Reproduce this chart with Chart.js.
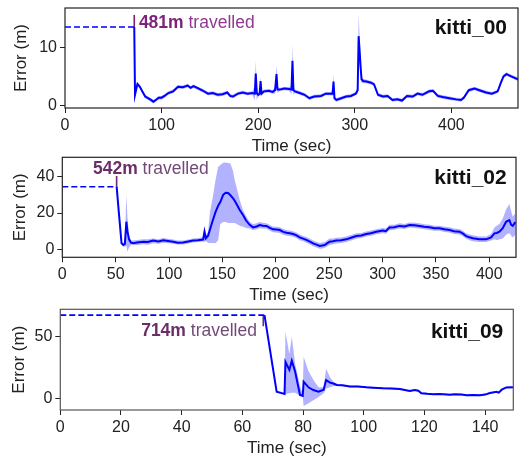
<!DOCTYPE html>
<html>
<head>
<meta charset="utf-8">
<script src="https://cdn.jsdelivr.net/npm/chart.js@4.4.1/dist/chart.umd.min.js"></script>
<style>
  html, body { margin: 0; padding: 0; background: #fff; overflow: hidden; }
  #wrap { position: relative; width: 521px; height: 456px; }
  canvas { position: absolute; left: 0; }
</style>
</head>
<body>
<div id="wrap">
  <canvas id="c00" width="521" height="157" style="top:0px"></canvas>
  <canvas id="c02" width="521" height="156" style="top:150px"></canvas>
  <canvas id="c09" width="521" height="160" style="top:299px"></canvas>
</div>
<script>
// kitti_00 : time (sec), mean error (m), spread (m)
const t00 = [
  71.7, 72.5, 75, 77.5, 80, 83, 86, 89, 91.5, 94,
  97, 100, 103, 107, 112, 117, 122, 127, 130, 133,
  138, 143, 148, 153, 158, 163, 168, 171, 174, 179,
  184, 189, 194, 196.5, 197.5, 198.5, 200, 201.5, 202.5, 203.5,
  206, 211, 215, 217.5, 219, 220, 222, 227, 232, 234.5,
  235.5, 236.5, 238, 243, 248, 253, 258, 265, 270, 275,
  277, 278, 279, 281, 286, 291, 296, 301, 303, 304,
  305, 306, 307, 308.5, 312, 317, 320, 324, 329, 334,
  339, 344, 349, 354, 360, 365, 370, 377, 381, 386,
  391, 398, 405, 410, 413, 418, 424, 429, 436, 442,
  448, 451, 454, 457, 462, 469
];
const err00 = [
  13.6, 1.8, 3.7, 3.2, 2.4, 1.5, 1.2, 0.9, 0.6, 0.9,
  1.3, 1.3, 1.6, 2.1, 2.4, 3.2, 3.1, 3.4, 3.0, 3.3,
  2.9, 2.5, 2.0, 2.1, 1.8, 1.9, 2.2, 1.6, 1.5, 2.0,
  2.2, 2.0, 2.1, 2.0, 5.5, 2.1, 1.8, 2.0, 4.2, 2.0,
  2.4, 2.5, 2.3, 2.6, 5.4, 2.7, 2.7, 2.9, 2.8, 2.7,
  7.7, 2.6, 2.4, 2.1, 1.8, 1.2, 1.5, 1.6, 2.0, 2.0,
  2.0, 4.1, 1.2, 0.9, 1.2, 1.5, 1.6, 2.0, 2.6, 12.0,
  9.5, 6.8, 4.5, 4.2, 4.1, 3.9, 3.6, 1.8, 1.5, 1.6,
  0.9, 1.0, 0.8, 1.6, 1.5, 2.0, 1.8, 2.4, 2.5, 1.6,
  1.4, 1.2, 1.0, 0.9, 1.3, 2.6, 2.9, 2.6, 2.2, 2.0,
  2.4, 3.8, 5.0, 5.4, 5.0, 4.5
];
const sd00 = [
  0, 0.2, 0.3, 0.3, 0.3, 0.3, 0.3, 0.3, 0.3, 0.3,
  0.3, 0.3, 0.3, 0.3, 0.3, 0.3, 0.3, 0.3, 0.3, 0.3,
  0.3, 0.3, 0.3, 0.3, 0.3, 0.3, 0.3, 0.3, 0.3, 0.3,
  0.3, 0.3, 0.3, 1.2, 2.2, 1.2, 0.3, 0.4, 0.8, 0.4,
  0.3, 0.3, 0.3, 0.6, 1.6, 0.6, 0.3, 0.3, 0.3, 0.8,
  3.0, 0.8, 0.3, 0.3, 0.3, 0.3, 0.3, 0.3, 0.3, 0.3,
  0.4, 1.3, 0.4, 0.3, 0.3, 0.3, 0.3, 0.3, 0.6, 4.0,
  2.5, 1.5, 0.6, 0.4, 0.3, 0.3, 0.3, 0.3, 0.3, 0.3,
  0.3, 0.3, 0.3, 0.3, 0.3, 0.3, 0.3, 0.3, 0.3, 0.3,
  0.3, 0.3, 0.3, 0.3, 0.3, 0.3, 0.3, 0.3, 0.3, 0.3,
  0.3, 0.3, 0.3, 0.3, 0.3, 0.3
];

// kitti_02 : time, mean, lower, upper
const t02 = [
  50.9, 53.3, 55.5, 57.1, 58.6, 60, 61, 62.5, 64.3, 66.5,
  70, 75.8, 80, 85.1, 90, 94.5, 99, 103.8, 108, 113.2,
  118, 122.6, 127, 131.9, 133.2, 134.5, 136.6, 138.2, 141, 143.5,
  146, 148, 150.7, 153, 155.3, 157.5, 160, 161.5, 164.6, 166.2,
  169.3, 172, 175.5, 178.7, 182, 184.9, 188, 191.2, 194, 197.4,
  200.5, 203.7, 207, 209.9, 213, 216.1, 219, 222.4, 225.5, 228.6,
  232, 234.9, 238, 241.1, 243.5, 245.8, 248, 250.4, 253.5, 256.7,
  261, 266, 270.5, 275.4, 280, 284.7, 289, 294.1, 300.3, 303,
  306.5, 311, 315.9, 320.5, 325.3, 330, 334.6, 339, 344, 348.5,
  353.3, 358, 362.7, 367, 372, 375, 378.3, 381.5, 384.5, 390.7,
  397, 401.7, 404.8, 407, 409.5, 412.6, 415.7, 418.8, 420.5, 422,
  424.4
];
const err02 = [
  34.5, 18, 3.3, 2.4, 3.0, 15.2, 10, 5.5, 3.7, 3.3,
  3.8, 4.2, 4.0, 4.8, 4.3, 5.0, 4.6, 4.2, 3.6, 3.7,
  4.3, 4.8, 5.0, 5.4, 9.7, 6.1, 7.5, 10.6, 16, 20.5,
  24, 26, 30, 31.2, 31, 29.8, 28.1, 26.8, 23.5, 21.7,
  18.9, 16, 13.5, 12.1, 12.6, 13.4, 13.0, 12.9, 12.0, 11.0,
  10.9, 10.6, 9.6, 9.1, 8.8, 8.4, 7.8, 6.6, 5.9, 5.2,
  4.2, 3.3, 2.6, 1.9, 2.1, 2.4, 3.3, 4.2, 4.4, 4.8,
  5.0, 5.5, 6.4, 7.3, 7.6, 8.4, 8.9, 9.7, 10.3, 10.0,
  12.0, 12.2, 12.9, 12.6, 13.4, 13.2, 12.9, 12.4, 12.1, 11.6,
  11.6, 11.0, 10.6, 10.0, 9.7, 8.8, 7.3, 6.6, 6.1, 5.5,
  5.5, 6.6, 8.8, 9.0, 9.7, 11.6, 15.2, 16.1, 13.5, 12.9,
  15.0
];
const lo02 = [
  34.5, 18, 2.5, 1.5, 1.5, 2, -1.3, 1, 2.5, 2.5,
  2.2, 2.8, 2.5, 3.3, 3.0, 3.6, 3.4, 3.0, 2.6, 2.7,
  3.2, 3.8, 4.0, 4.3, 4, 4.6, 3.5, 3.5, 3.5, 3.3,
  5, 14, 15, 15, 14.5, 14.5, 14.5, 14.5, 13.5, 13,
  12.5, 11.8, 11.5, 10.5, 11, 11.6, 11.4, 11.3, 10.4, 9.4,
  9.3, 9.0, 8.0, 7.5, 7.3, 6.9, 6.2, 5.0, 4.4, 3.6,
  2.6, 1.7, 1.0, 0.3, 0.5, 0.8, 1.5, 2.4, 2.8, 3.2,
  3.5, 4.0, 4.9, 5.8, 6.2, 7.0, 7.5, 8.3, 8.9, 8.6,
  10.5, 10.8, 11.5, 11.2, 12.0, 11.8, 11.5, 11.0, 10.7, 10.2,
  10.2, 9.6, 9.2, 8.5, 8.2, 7.3, 5.8, 5.0, 4.5, 4.0,
  4.0, 4.8, 5.5, 5.0, 5.5, 6.0, 8.0, 9.0, 7.5, 6.5,
  8.0
];
const hi02 = [
  34.5, 18, 4.0, 3.5, 5, 29.9, 18, 8, 5, 4.8,
  5.2, 5.6, 5.5, 6.0, 5.6, 6.2, 5.8, 5.4, 4.8, 4.9,
  5.4, 6.0, 6.2, 6.6, 13.4, 7.6, 10, 20, 29, 38,
  45.5, 46.5, 47.7, 47.8, 47.5, 47.3, 43, 38.2, 31, 27.2,
  21.5, 18.5, 15.2, 13.8, 14.3, 15, 14.6, 14.4, 13.5, 12.5,
  12.4, 12.2, 11.2, 10.6, 10.3, 9.9, 9.3, 8.2, 7.4, 6.8,
  5.8, 4.9, 4.2, 3.5, 3.7, 4.0, 5.0, 6.0, 6.0, 6.4,
  6.5, 7.0, 7.9, 8.8, 9.0, 9.8, 10.3, 11.1, 11.7, 11.4,
  13.5, 13.6, 14.3, 14.0, 14.8, 14.6, 14.3, 13.8, 13.5, 13.0,
  13.0, 12.5, 12.1, 11.5, 11.2, 10.3, 8.9, 8.2, 7.7, 7.0,
  7.0, 8.5, 12, 13, 14, 17, 22, 25, 21, 18,
  20
];

// kitti_09 : time, mean, lower, upper
const t09 = [
  67.3, 71.3, 73.9, 74.2, 75.5, 76.3, 77.4, 79.0, 79.9, 80.2,
  81.8, 83.4, 85.1, 86.8, 87.6, 88.9, 90, 91.1, 93, 95.5,
  98, 100.9, 103, 106.4, 109, 111.9, 114, 115.2, 116.8, 118,
  119, 121, 122.9, 125, 128.4, 130, 132.2, 134, 136, 138.3,
  140, 141.6, 143.8, 144.5, 145.5, 147, 149.3
];
const err09 = [
  67.5, 5.4, 3.5, 29.5, 23, 30.5, 21.5, 2.7, 2.0, 13.5,
  8.9, 6.7, 5.4, 7.0, 14.8, 12.7, 12.0, 10.8, 10.5, 9.5,
  9.6, 8.9, 8.6, 8.1, 8.0, 7.6, 6.5, 6.0, 6.8, 6.2,
  4.1, 3.6, 3.3, 3.5, 2.9, 3.2, 3.0, 2.4, 2.7, 2.4,
  3.0, 4.3, 5.2, 4.6, 7.0, 8.8, 8.9
];
const lo09 = [
  67.5, 5.4, 3.5, 3.5, 4, 4.5, 4.5, 2, 1.5, -6.2,
  -4, -1.5, 1, 4, 8, 9, 10, 10, 9.8, 8.8,
  8.9, 8.2, 7.9, 7.4, 7.3, 6.9, 5.8, 5.3, 6.1, 5.5,
  3.4, 2.9, 2.6, 2.8, 2.2, 2.5, 2.3, 1.7, 2.0, 1.7,
  2.3, 3.6, 4.5, 3.9, 6.3, 8.1, 8.2
];
const hi09 = [
  67.5, 5.4, 3.5, 54, 36, 50, 28, 10, 3.5, 33.7,
  22, 15, 9, 9, 24, 17, 13.5, 11.8, 11.2, 10.2,
  10.3, 9.6, 9.3, 8.8, 8.7, 8.3, 7.2, 6.7, 7.5, 6.9,
  4.8, 4.3, 4.0, 4.2, 3.6, 3.9, 3.7, 3.1, 3.4, 3.1,
  3.7, 5.0, 5.9, 5.3, 7.7, 9.5, 9.6
];

// per panel: name, initial (dashed) error, where the dashed part ends, distance label
const names = ['kitti_00', 'kitti_02', 'kitti_09'];
const dashLevel = [13.6, 34.5, 67.5];
const dashEnd = [71.7, 50.9, 67.5];
const markX = [71.7, 50.9, 66.9];
const markTo = [15.7, 40.4, 58.4];
const travelled = ['481m', '542m', '714m'];
const labelX = [76.5, 28.7, 64.8];
const labelY = [14.3, 44.2, 54.8];
const xMax = [469, 425, 149.3];
const xStep = [100, 50, 20];
const yMin = [-0.5, -4.4, -9.5];
const yMax = [16.9, 50.7, 72.2];
const yStep = [10, 20, 50];

Chart.defaults.font.family = "'Liberation Sans', Arial, sans-serif";
Chart.defaults.color = '#222';

const FONT = "'Liberation Sans', Arial, sans-serif";
const BLUE = '#0000ff';
const BAND = 'rgba(0, 0, 255, 0.3)';

function pts(xs, ys) {
  return xs.map((x, i) => ({ x: x, y: ys[i] }));
}

function makeChart(id, i, lay, t, mean, lo, hi) {
  const deco = {
    id: 'deco' + i,
    afterDatasetsDraw(chart) {
      const ctx = chart.ctx;
      const a = chart.chartArea;
      const xs = chart.scales.x;
      const ys = chart.scales.y;
      ctx.save();
      // "NNNm travelled"
      const fb = 'bold 17.5px ' + FONT;
      const fr = '17.5px ' + FONT;
      ctx.textBaseline = 'middle';
      ctx.textAlign = 'left';
      ctx.font = fb;
      const wb = ctx.measureText(travelled[i]).width;
      ctx.font = fr;
      const wr = ctx.measureText(' travelled').width;
      let x = xs.getPixelForValue(labelX[i]);
      if (lay.labelRight) x -= wb + wr;
      const y = ys.getPixelForValue(labelY[i]);
      ctx.font = fb;
      ctx.fillStyle = lay.boldColor;
      ctx.fillText(travelled[i], x, y);
      ctx.font = fr;
      ctx.fillStyle = lay.textColor;
      ctx.fillText(' travelled', x + wb, y);
      // sequence name
      ctx.font = 'bold 21px ' + FONT;
      ctx.fillStyle = '#111';
      ctx.textAlign = 'right';
      ctx.textBaseline = 'alphabetic';
      ctx.fillText(names[i], a.right - lay.nameRight, a.top + lay.nameTop);
      // frame
      ctx.strokeStyle = lay.frame;
      ctx.lineWidth = 1.2;
      ctx.strokeRect(a.left, a.top, a.right - a.left, a.bottom - a.top);
      ctx.restore();
    }
  };

  const datasets = [
    { data: pts(t, mean), borderColor: BLUE, borderWidth: 2, pointRadius: 0, fill: false },
    { data: pts([0, dashEnd[i]], [dashLevel[i], dashLevel[i]]), borderColor: BLUE, borderWidth: 1.6,
      borderDash: [6, 3], pointRadius: 0, fill: false },
    { data: pts([markX[i], markX[i]], [dashLevel[i], markTo[i]]), borderColor: lay.boldColor, borderWidth: 1.6,
      pointRadius: 0, fill: false },
    { data: pts(t, hi), borderWidth: 0, borderColor: 'rgba(0,0,0,0)', pointRadius: 0, fill: false },
    { data: pts(t, lo), borderWidth: 0, borderColor: 'rgba(0,0,0,0)', pointRadius: 0, fill: '-1',
      backgroundColor: BAND }
  ];

  return new Chart(document.getElementById(id), {
    type: 'line',
    data: { datasets: datasets },
    options: {
      responsive: false,
      animation: false,
      events: [],
      layout: { padding: { top: lay.padTop, right: lay.padRight, left: 0, bottom: 0 } },
      plugins: { legend: { display: false }, tooltip: { enabled: false } },
      scales: {
        x: {
          type: 'linear',
          min: 0,
          max: xMax[i],
          ticks: { stepSize: xStep[i], includeBounds: false, autoSkip: false, maxRotation: 0,
            font: { size: 16 }, color: '#222', padding: 3 },
          grid: { drawOnChartArea: false, tickLength: 5, color: '#222' },
          border: { display: false },
          title: { display: true, text: 'Time (sec)', font: { size: 17 }, color: '#222',
            padding: { top: 0, bottom: lay.xTitlePad } },
          afterFit(s) {
            s.height = lay.xH;
            s.paddingLeft = 0; s.paddingRight = 0; s.paddingTop = 0; s.paddingBottom = 0;
          }
        },
        y: {
          min: yMin[i],
          max: yMax[i],
          ticks: { stepSize: yStep[i], includeBounds: false, autoSkip: false,
            font: { size: 16 }, color: '#222', padding: 3 },
          grid: { drawOnChartArea: false, tickLength: 5, color: '#222' },
          border: { display: false },
          title: { display: true, text: 'Error (m)', font: { size: 17 }, color: '#222',
            padding: { top: lay.yTitlePad, bottom: 0 } },
          afterFit(s) {
            s.width = lay.yW;
            s.paddingLeft = 0; s.paddingRight = 0; s.paddingTop = 0; s.paddingBottom = 0;
          }
        }
      }
    },
    plugins: [deco]
  });
}

makeChart('c00', 0, { padTop: 8, padRight: 3, yW: 65, xH: 49, yTitlePad: 10.8, xTitlePad: 0.8,
  nameRight: 11, nameTop: 26, frame: '#222', boldColor: '#7d237d', textColor: '#8f3a8f', labelRight: false },
  t00, err00, err00.map((v, k) => v - sd00[k]), err00.map((v, k) => v + sd00[k]));

makeChart('c02', 1, { padTop: 7.3, padRight: 5, yW: 62.3, xH: 48.7, yTitlePad: 9.8, xTitlePad: 0.5,
  nameRight: 9.3, nameTop: 27, frame: '#222', boldColor: '#6b2e6b', textColor: '#74497a', labelRight: false },
  t02, err02, lo02, hi02);

makeChart('c09', 2, { padTop: 10.3, padRight: 7.7, yW: 60.3, xH: 49, yTitlePad: 9.3, xTitlePad: 0.8,
  nameRight: 10, nameTop: 29, frame: '#555', boldColor: '#6b2e6b', textColor: '#74497a', labelRight: true },
  t09, err09, lo09, hi09);
</script>
</body>
</html>
